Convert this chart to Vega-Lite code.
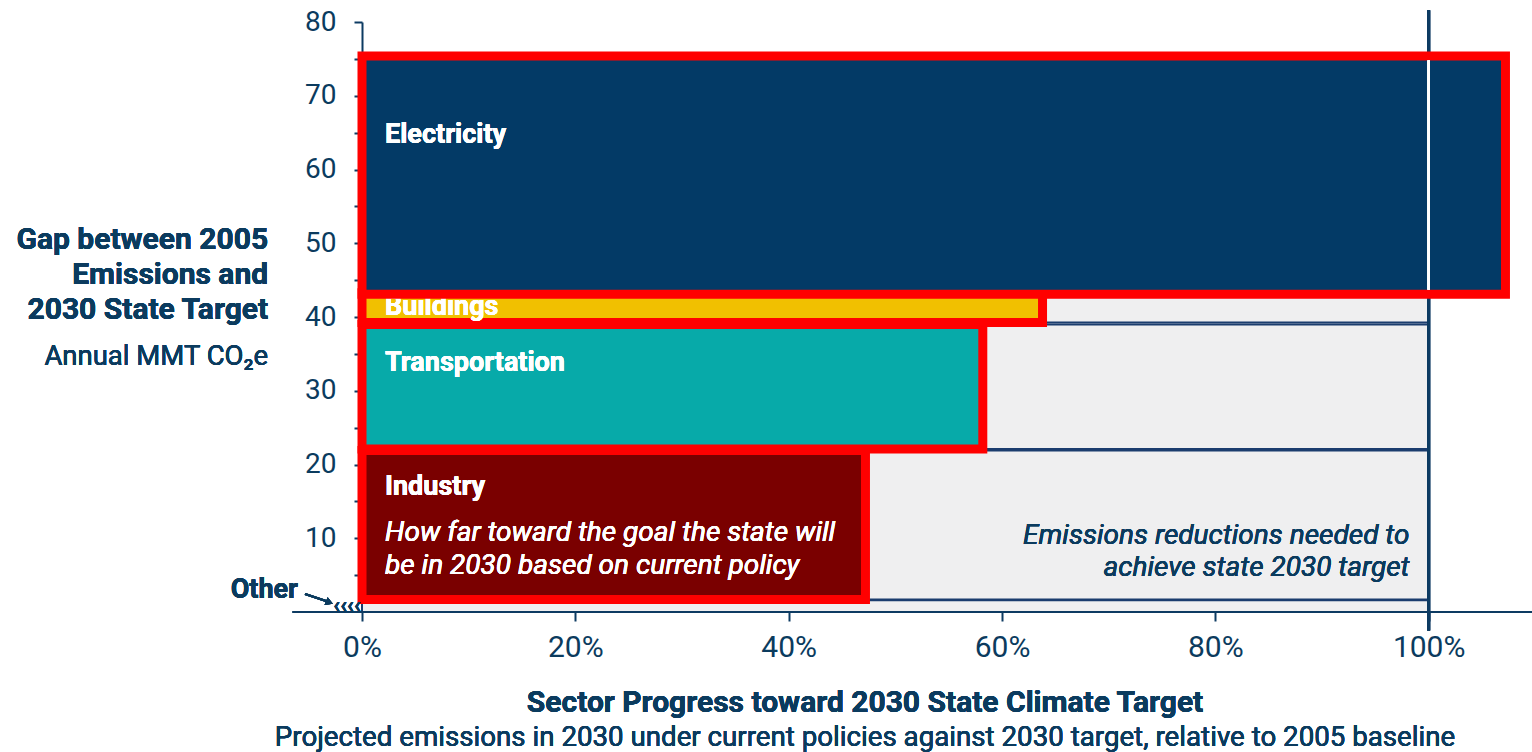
{
  "$schema": "https://vega.github.io/schema/vega-lite/v6.json",
  "width": 1152,
  "height": 590,
  "autosize": {"type": "none"},
  "padding": {"left": 362, "top": 22, "right": 18, "bottom": 140},
  "background": "#ffffff",
  "config": {"view": {"stroke": null}, "font": "Roboto"},
  "datasets": {
    "sectors": [
      {"sector": "Other", "y0": 0, "y1": 1.6, "progress": 0},
      {"sector": "Industry", "y0": 1.7, "y1": 21.9, "progress": 0.472},
      {"sector": "Transportation", "y0": 22.1, "y1": 39.0, "progress": 0.582},
      {"sector": "Buildings", "y0": 39.25, "y1": 43.3, "progress": 0.638},
      {"sector": "Electricity", "y0": 43.1, "y1": 75.4, "progress": 1.072}
    ]
  },
  "data": {"name": "sectors"},
  "layer": [
    {
      "transform": [{"filter": "datum.progress < 1"}],
      "mark": {"type": "rect", "fill": "#efeff0", "stroke": "#1b3d6e", "strokeWidth": 2},
      "encoding": {
        "x": {
          "field": "progress", "type": "quantitative",
          "scale": {"domain": [0, 1.08], "nice": false, "zero": false},
          "axis": {
            "values": [0, 0.2, 0.4, 0.6, 0.8, 1.0],
            "tickCount": 20,
            "format": ".0%",
            "title": null,
            "domain": false,
            "grid": false,
            "ticks": true,
            "tickSize": 9,
            "tickWidth": 2,
            "tickColor": "#0d3b62",
            "labelFontSize": 30,
            "labelColor": "#0b3b5e",
            "labelPadding": 11,
            "labelFlush": false,
            "labelOverlap": false,
            "labelFont": "Roboto"
          }
        },
        "x2": {"datum": 1},
        "y": {
          "field": "y0", "type": "quantitative",
          "scale": {"domain": [0, 80], "nice": false, "zero": true},
          "axis": {
            "values": [5, 10, 15, 20, 25, 30, 35, 40, 45, 50, 55, 60, 65, 70, 75, 80],
            "tickCount": 40,
            "labelExpr": "datum.value % 10 === 0 ? datum.label : ''",
            "labelOverlap": false,
            "labelFlush": false,
            "title": null,
            "grid": false,
            "domain": true,
            "domainColor": "#0d3b62",
            "domainWidth": 2,
            "tickSize": 8,
            "tickWidth": 2,
            "tickColor": "#0d3b62",
            "labelFontSize": 28,
            "labelColor": "#0b3b5e",
            "labelPadding": 18,
            "labelFont": "Roboto"
          }
        },
        "y2": {"field": "y1"}
      }
    },
    {
      "mark": {"type": "rule", "color": "#0d3b62", "strokeWidth": 3},
      "encoding": {
        "x": {"datum": 1, "type": "quantitative"},
        "y": {"datum": -2.5, "type": "quantitative"},
        "y2": {"datum": 81.6}
      }
    },
    {
      "mark": {"type": "rule", "color": "#0d3b62", "strokeWidth": 2},
      "encoding": {
        "x": {"datum": -0.065, "type": "quantitative"},
        "x2": {"datum": 1.097},
        "y": {"datum": 0, "type": "quantitative"}
      }
    },
    {
      "transform": [{"filter": "datum.sector !== 'Electricity' && datum.sector !== 'Other'"}],
      "mark": {"type": "rect", "stroke": "#ff0000", "strokeWidth": 9, "strokeJoin": "miter"},
      "encoding": {
        "x": {"field": "progress", "type": "quantitative"},
        "x2": {"datum": 0},
        "y": {"field": "y0", "type": "quantitative"},
        "y2": {"field": "y1"},
        "fill": {
          "field": "sector", "type": "nominal",
          "scale": {"domain": ["Other", "Industry", "Transportation", "Buildings", "Electricity"],
                    "range": ["#0b3b5e", "#7a0000", "#07aaa9", "#f1c000", "#033a66"]},
          "legend": null
        }
      }
    },
    {
      "mark": {"type": "text", "text": "Buildings", "align": "left", "baseline": "middle", "fontSize": 27, "fontWeight": "bold", "color": "#ffffff"},
      "encoding": {"x": {"datum": 0.0216, "type": "quantitative"}, "y": {"datum": 41.4, "type": "quantitative"}}
    },
    {
      "transform": [{"filter": "datum.sector === 'Electricity'"}],
      "mark": {"type": "rect", "stroke": "#ff0000", "strokeWidth": 9, "strokeJoin": "miter"},
      "encoding": {
        "x": {"field": "progress", "type": "quantitative"},
        "x2": {"datum": 0},
        "y": {"field": "y0", "type": "quantitative"},
        "y2": {"field": "y1"},
        "fill": {"field": "sector", "type": "nominal", "legend": null}
      }
    },
    {
      "mark": {"type": "rule", "color": "#ffffff", "strokeWidth": 2.5},
      "encoding": {
        "x": {"datum": 1, "type": "quantitative"},
        "y": {"datum": 43.7, "type": "quantitative"},
        "y2": {"datum": 74.8}
      }
    },
    {
      "mark": {"type": "text", "text": "Electricity", "align": "left", "baseline": "middle", "fontSize": 27, "fontWeight": "bold", "color": "#ffffff"},
      "encoding": {"x": {"datum": 0.0216, "type": "quantitative"}, "y": {"datum": 64.7, "type": "quantitative"}}
    },
    {
      "mark": {"type": "text", "text": "Transportation", "align": "left", "baseline": "middle", "fontSize": 27, "fontWeight": "bold", "color": "#ffffff"},
      "encoding": {"x": {"datum": 0.0216, "type": "quantitative"}, "y": {"datum": 33.8, "type": "quantitative"}}
    },
    {
      "mark": {"type": "text", "text": "Industry", "align": "left", "baseline": "middle", "fontSize": 27, "fontWeight": "bold", "color": "#ffffff"},
      "encoding": {"x": {"datum": 0.0216, "type": "quantitative"}, "y": {"datum": 16.9, "type": "quantitative"}}
    },
    {
      "mark": {"type": "text", "text": ["How far toward the goal the state will", "be in 2030 based on current policy"], "align": "left", "baseline": "middle", "lineHeight": 33, "fontSize": 28, "fontStyle": "italic", "color": "#ffffff"},
      "encoding": {"x": {"datum": 0.0216, "type": "quantitative"}, "y": {"datum": 10.7, "type": "quantitative"}}
    },
    {
      "mark": {"type": "text", "text": ["Emissions reductions needed to", "achieve state 2030 target"], "align": "right", "baseline": "middle", "lineHeight": 32, "fontSize": 28, "fontStyle": "italic", "color": "#0b3b5e"},
      "encoding": {"x": {"datum": 0.982, "type": "quantitative"}, "y": {"datum": 10.3, "type": "quantitative"}}
    },
    {
      "mark": {"type": "text", "text": "Other", "align": "right", "baseline": "middle", "fontSize": 27, "fontWeight": "bold", "color": "#0b3b5e"},
      "encoding": {"x": {"datum": -0.06, "type": "quantitative"}, "y": {"datum": 3.0, "type": "quantitative"}}
    },
    {
      "mark": {"type": "rule", "color": "#0b3b5e", "strokeWidth": 2},
      "encoding": {
        "x": {"datum": -0.0534, "type": "quantitative"},
        "x2": {"datum": -0.033},
        "y": {"datum": 2.44, "type": "quantitative"},
        "y2": {"datum": 1.45}
      }
    },
    {
      "mark": {"type": "point", "shape": "triangle-right", "filled": true, "color": "#0b3b5e", "size": 70, "angle": 22, "opacity": 1},
      "encoding": {"x": {"datum": -0.0305, "type": "quantitative"}, "y": {"datum": 1.3, "type": "quantitative"}}
    },
    {
      "mark": {"type": "text", "text": "‹‹‹‹", "align": "center", "baseline": "middle", "fontSize": 22, "fontWeight": "bold", "color": "#0b3b5e"},
      "encoding": {"x": {"datum": -0.014, "type": "quantitative"}, "y": {"datum": 0.9, "type": "quantitative"}}
    },
    {
      "mark": {"type": "text", "text": ["Gap between 2005", "Emissions and", "2030 State Target"], "align": "right", "baseline": "middle", "lineHeight": 35, "fontSize": 30, "fontWeight": "bold", "color": "#0b3b5e"},
      "encoding": {"x": {"datum": -0.088, "type": "quantitative"}, "y": {"datum": 50.4, "type": "quantitative"}}
    },
    {
      "mark": {"type": "text", "text": "Annual MMT CO₂e", "align": "right", "baseline": "middle", "fontSize": 27.5, "color": "#0b3b5e"},
      "encoding": {"x": {"datum": -0.088, "type": "quantitative"}, "y": {"datum": 34.6, "type": "quantitative"}}
    },
    {
      "mark": {"type": "text", "text": "Sector Progress toward 2030 State Climate Target", "align": "center", "baseline": "middle", "fontSize": 30, "fontWeight": "bold", "color": "#0b3b5e"},
      "encoding": {"x": {"datum": 0.4716, "type": "quantitative"}, "y": {"datum": -12.3, "type": "quantitative"}}
    },
    {
      "mark": {"type": "text", "text": "Projected emissions in 2030 under current policies against 2030 target, relative to 2005 baseline", "align": "center", "baseline": "middle", "fontSize": 27.7, "color": "#0b3b5e"},
      "encoding": {"x": {"datum": 0.4716, "type": "quantitative"}, "y": {"datum": -17.1, "type": "quantitative"}}
    }
  ]
}
